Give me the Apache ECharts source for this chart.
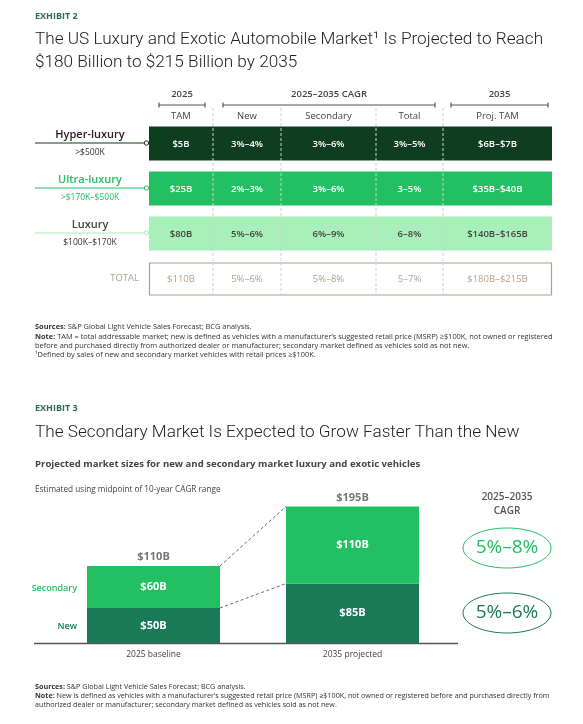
<!DOCTYPE html>
<html><head><meta charset="utf-8">
<script src="https://cdn.jsdelivr.net/npm/echarts@6/dist/echarts.min.js"></script>
<style>html,body{margin:0;padding:0;background:#fff}#c{width:583px;height:724px}</style>
</head><body><div id="c"></div>
<script>
// ---------- Exhibit 2 data ----------
const tiers = ['Hyper-luxury', 'Ultra-luxury', 'Luxury', 'TOTAL'];
const tierRanges = ['>$500K', '>$170K–$500K', '$100K–$170K', ''];
const groupHeaders = ['2025', '2025–2035 CAGR', '2035'];
const colHeaders = ['TAM', 'New', 'Secondary', 'Total', 'Proj. TAM'];
const tam = ['$5B', '$25B', '$80B', '$110B'];
const cagrNew = ['3%–4%', '2%–3%', '5%–6%', '5%–6%'];
const cagrSecondary = ['3%–6%', '3%–6%', '6%–9%', '5%–8%'];
const cagrTotal = ['3%–5%', '3–5%', '6–8%', '5–7%'];
const projTam = ['$6B–$7B', '$35B–$40B', '$140B–$165B', '$180B–$215B'];
// ---------- Exhibit 3 data ----------
const periods = ['2025 baseline', '2035 projected'];
const newMarket = [50, 85];
const secondaryMarket = [60, 110];
const totals = [110, 195];
const cagrSecondaryLabel = '5%–8%';
const cagrNewLabel = '5%–6%';

// ---------- layout / style (not data) ----------
const F = '"Open Sans", "Noto Sans", sans-serif';
const FT = 'Roboto, "Noto Sans", sans-serif';
const colEdges = [0, 64, 132, 227, 294, 403];
const tableLeft = 149, tableWidth = 403;
const rowStyles = [
  { fill: '#0f3d1f', text: '#ffffff', name: '#222222', sub: '#333333', line: '#0f3d1f', weight: 600 },
  { fill: '#22c062', text: '#ffffff', name: '#22c062', sub: '#22c062', line: '#22c062', weight: 600 },
  { fill: '#a8efba', text: '#444444', name: '#444444', sub: '#333333', line: '#a8efba', weight: 600 },
  { fill: null, text: '#b5a08a', name: '#b5a08a', sub: '', line: '', weight: 400 }
];
const C_NEW = '#1a7a57', C_SEC = '#22c062';

function T(x, y, text, o) {
  o = o || {};
  const st = {
    text: text, x: 0, y: 0,
    fill: o.fill || '#333',
    font: (o.weight || 'normal') + ' ' + (o.size || 10) + 'px ' + (o.family || F),
    align: o.align || 'left', textAlign: o.align || 'left',
    verticalAlign: 'middle', textVerticalAlign: 'middle'
  };
  if (o.rich) st.rich = o.rich;
  return { type: 'text', x: x, y: y, style: st, z: 10 };
}

const cols = [tam, cagrNew, cagrSecondary, cagrTotal, projTam];

function renderRow(params, api) {
  const r = api.value(1);
  const s = rowStyles[r];
  const p0 = api.coord([0, r]);
  const p1 = api.coord([tableWidth, r]);
  const cy = p0[1];
  const h = 34;
  const ch = [];
  if (s.fill) {
    ch.push({ type: 'rect', shape: { x: p0[0], y: cy - h / 2, width: p1[0] - p0[0], height: h }, style: { fill: s.fill } });
  } else {
    ch.push({ type: 'rect', shape: { x: p0[0] + 0.5, y: cy - h / 2 + 1.5, width: p1[0] - p0[0] - 1, height: h - 2 }, style: { fill: '#fff', stroke: '#b39d84', lineWidth: 1.2 } });
  }
  for (let c = 0; c < 5; c++) {
    const cx = api.coord([(colEdges[c] + colEdges[c + 1]) / 2, r])[0];
    ch.push({ type: 'text', x: cx, y: cy + 0.5, z2: 5,
      style: { text: cols[c][r], fill: s.text, font: s.weight + ' 9.5px ' + F,
        align: 'center', textAlign: 'center', verticalAlign: 'middle', textVerticalAlign: 'middle' } });
  }
  if (r < 3) {
    ch.push({ type: 'text', x: 90, y: cy - 9, style: { text: tiers[r], fill: s.name,
      font: '600 11px ' + F, align: 'center', textAlign: 'center', verticalAlign: 'middle', textVerticalAlign: 'middle' } });
    ch.push({ type: 'text', x: 90, y: cy + 9, style: { text: tierRanges[r], fill: s.sub,
      font: 'normal 8.5px ' + F, align: 'center', textAlign: 'center', verticalAlign: 'middle', textVerticalAlign: 'middle' } });
    ch.push({ type: 'line', shape: { x1: 35, y1: cy - 0.5, x2: p0[0] - 4.5, y2: cy - 0.5 }, style: { stroke: s.line, lineWidth: 1.2 } });
    ch.push({ type: 'circle', shape: { cx: p0[0] - 2.5, cy: cy - 0.5, r: 2.2 }, style: { fill: '#fff', stroke: s.line, lineWidth: 1 } });
  } else {
    ch.push({ type: 'text', x: 139, y: cy, style: { text: tiers[r], fill: s.name,
      font: 'normal 9.5px ' + F, align: 'right', textAlign: 'right', verticalAlign: 'middle', textVerticalAlign: 'middle' } });
  }
  return { type: 'group', children: ch };
}

function renderSep(params, api) {
  const x = api.coord([api.value(0), 0])[0];
  return { type: 'line', shape: { x1: x, y1: 108, x2: x, y2: 296 },
    style: { stroke: '#cfcfcf', lineWidth: 1, lineDash: [3, 2] } };
}

function renderConnector(params, api) {
  const half = 66.5;
  const a = api.coord([0, api.value(1)]);
  const b = api.coord([1, api.value(2)]);
  return { type: 'line', shape: { x1: a[0] + half, y1: a[1], x2: b[0] - half, y2: b[1] },
    style: { stroke: '#666', lineWidth: 1, lineDash: [3, 2.5] } };
}

// headers
const graphics = [];
graphics.push(T(35, 16, 'EXHIBIT 2', { weight: 'bold', size: 9, fill: '#2b6e4f' }));
graphics.push(T(35, 40, 'The US Luxury and Exotic Automobile Market¹ Is Projected to Reach', { size: 17.2, weight: 300, family: FT, fill: '#222' }));
graphics.push(T(35, 63, '$180 Billion to $215 Billion by 2035', { size: 17.2, weight: 300, family: FT, fill: '#222' }));

const groupSpans = [[159, 205], [223, 435], [451, 548]];
groupSpans.forEach((sp, i) => {
  graphics.push(T((sp[0] + sp[1]) / 2, 94, groupHeaders[i], { weight: 600, size: 9.5, fill: '#444', align: 'center' }));
  graphics.push({ type: 'line', shape: { x1: sp[0], y1: 105, x2: sp[1], y2: 105 }, style: { stroke: '#555', lineWidth: 1.2 } });
  graphics.push({ type: 'line', shape: { x1: sp[0], y1: 102.5, x2: sp[0], y2: 107.5 }, style: { stroke: '#555', lineWidth: 1.2 } });
  graphics.push({ type: 'line', shape: { x1: sp[1], y1: 102.5, x2: sp[1], y2: 107.5 }, style: { stroke: '#555', lineWidth: 1.2 } });
});
colHeaders.forEach((h, i) => {
  graphics.push(T(tableLeft + (colEdges[i] + colEdges[i + 1]) / 2, 116.5, h, { size: 9.5, fill: '#444', align: 'center' }));
});

const rb = { b: { fontWeight: 'bold', fontSize: 7.4, fontFamily: F, fill: '#333', color: '#333' } };
const nf = { size: 7.4, fill: '#333', rich: rb };
const rb2 = { b: { fontWeight: 'bold', fontSize: 7.2, fontFamily: F, fill: '#333', color: '#333' } };
const nf2 = { size: 7.2, fill: '#333', rich: rb2 };
graphics.push(T(35, 327, '{b|Sources:} S&P Global Light Vehicle Sales Forecast; BCG analysis.', nf));
graphics.push(T(35, 337, '{b|Note:} TAM = total addressable market; new is defined as vehicles with a manufacturer\u2019s suggested retail price (MSRP) \u2265$100K, not owned or registered', nf));
graphics.push(T(35, 346, 'before and purchased directly from authorized dealer or manufacturer; secondary market defined as vehicles sold as not new.', nf));
graphics.push(T(35, 355, '\u00b9Defined by sales of new and secondary market vehicles with retail prices \u2265$100K.', nf));

graphics.push(T(35, 408, 'EXHIBIT 3', { weight: 'bold', size: 9, fill: '#2b6e4f' }));
graphics.push(T(35, 433, 'The Secondary Market Is Expected to Grow Faster Than the New', { size: 17.2, weight: 300, family: FT, fill: '#222' }));
graphics.push(T(35, 464, 'Projected market sizes for new and secondary market luxury and exotic vehicles', { size: 9.6, weight: 'bold', fill: '#444' }));
graphics.push(T(35, 490, 'Estimated using midpoint of 10-year CAGR range', { size: 8.2, fill: '#444' }));

graphics.push(T(77, 588, 'Secondary', { size: 9, weight: 600, fill: C_SEC, align: 'right' }));
graphics.push(T(77, 626, 'New', { size: 9, weight: 600, fill: C_NEW, align: 'right' }));
graphics.push({ type: 'line', shape: { x1: 34, y1: 643.5, x2: 458, y2: 643.5 }, style: { stroke: '#555', lineWidth: 1.3 }, z: 10 });

graphics.push(T(507, 497, '2025–2035', { size: 10, weight: 600, fill: '#555', align: 'center' }));
graphics.push(T(507, 511, 'CAGR', { size: 10, weight: 600, fill: '#555', align: 'center' }));
graphics.push({ type: 'ellipse', shape: { cx: 507, cy: 548, rx: 44, ry: 20 }, style: { fill: '#fff', stroke: C_SEC, lineWidth: 1 } });
graphics.push(T(507, 548, cagrSecondaryLabel, { size: 19, fill: C_SEC, align: 'center' }));
graphics.push({ type: 'ellipse', shape: { cx: 507, cy: 613, rx: 44, ry: 20 }, style: { fill: '#fff', stroke: C_NEW, lineWidth: 1 } });
graphics.push(T(507, 613, cagrNewLabel, { size: 19, fill: C_NEW, align: 'center' }));

graphics.push(T(35, 687, '{b|Sources:} S&P Global Light Vehicle Sales Forecast; BCG analysis.', nf2));
graphics.push(T(35, 696, '{b|Note:} New is defined as vehicles with a manufacturer\u2019s suggested retail price (MSRP) \u2265$100K, not owned or registered before and purchased directly from', nf2));
graphics.push(T(35, 705, 'authorized dealer or manufacturer; secondary market defined as vehicles sold as not new.', nf2));

const fmtB = p => '$' + p.value + 'B';

const chart = echarts.init(document.getElementById('c'), null, { renderer: 'canvas' });
chart.setOption({
  animation: false,
  backgroundColor: '#fff',
  grid: [
    { left: tableLeft, width: tableWidth, top: 121, height: 180 },
    { left: 54, width: 398, top: 503, height: 140 }
  ],
  xAxis: [
    { gridIndex: 0, type: 'value', min: 0, max: tableWidth, show: false },
    { gridIndex: 1, type: 'category', data: periods, axisLine: { show: false }, axisTick: { show: false },
      axisLabel: { color: '#444', fontSize: 8.5, fontFamily: F, margin: 7 } }
  ],
  yAxis: [
    { gridIndex: 0, type: 'category', data: tiers, inverse: true, show: false },
    { gridIndex: 1, type: 'value', min: 0, max: 200, show: false }
  ],
  series: [
    { type: 'custom', xAxisIndex: 0, yAxisIndex: 0, renderItem: renderRow, z: 2,
      encode: { x: 0, y: 1 }, data: tiers.map((t, i) => [0, i]) },
    { type: 'custom', xAxisIndex: 0, yAxisIndex: 0, renderItem: renderSep, z: 3,
      encode: { x: 0 }, data: colEdges.slice(1, 5).map(e => [e]) },
    { name: 'New', type: 'bar', xAxisIndex: 1, yAxisIndex: 1, stack: 'm', data: newMarket, barWidth: 133,
      itemStyle: { color: C_NEW },
      label: { show: true, position: 'inside', color: '#fff', fontWeight: 'bold', fontSize: 11, fontFamily: F, formatter: fmtB } },
    { name: 'Secondary', type: 'bar', xAxisIndex: 1, yAxisIndex: 1, stack: 'm', data: secondaryMarket, barWidth: 133,
      itemStyle: { color: C_SEC },
      label: { show: true, position: 'inside', color: '#fff', fontWeight: 'bold', fontSize: 11, fontFamily: F, formatter: fmtB } },
    { name: 'Total', type: 'scatter', xAxisIndex: 1, yAxisIndex: 1, data: totals, symbolSize: 1,
      itemStyle: { color: 'rgba(0,0,0,0)' },
      label: { show: true, position: 'top', distance: 3, color: '#555', fontWeight: 'bold', fontSize: 11, fontFamily: F, formatter: fmtB } },
    { type: 'custom', xAxisIndex: 1, yAxisIndex: 1, renderItem: renderConnector, z: 5,
      encode: { x: 0, y: [1, 2] }, data: [[0, newMarket[0], newMarket[1]], [0, totals[0], totals[1]]] }
  ],
  graphic: graphics
});
</script>
</body></html>
